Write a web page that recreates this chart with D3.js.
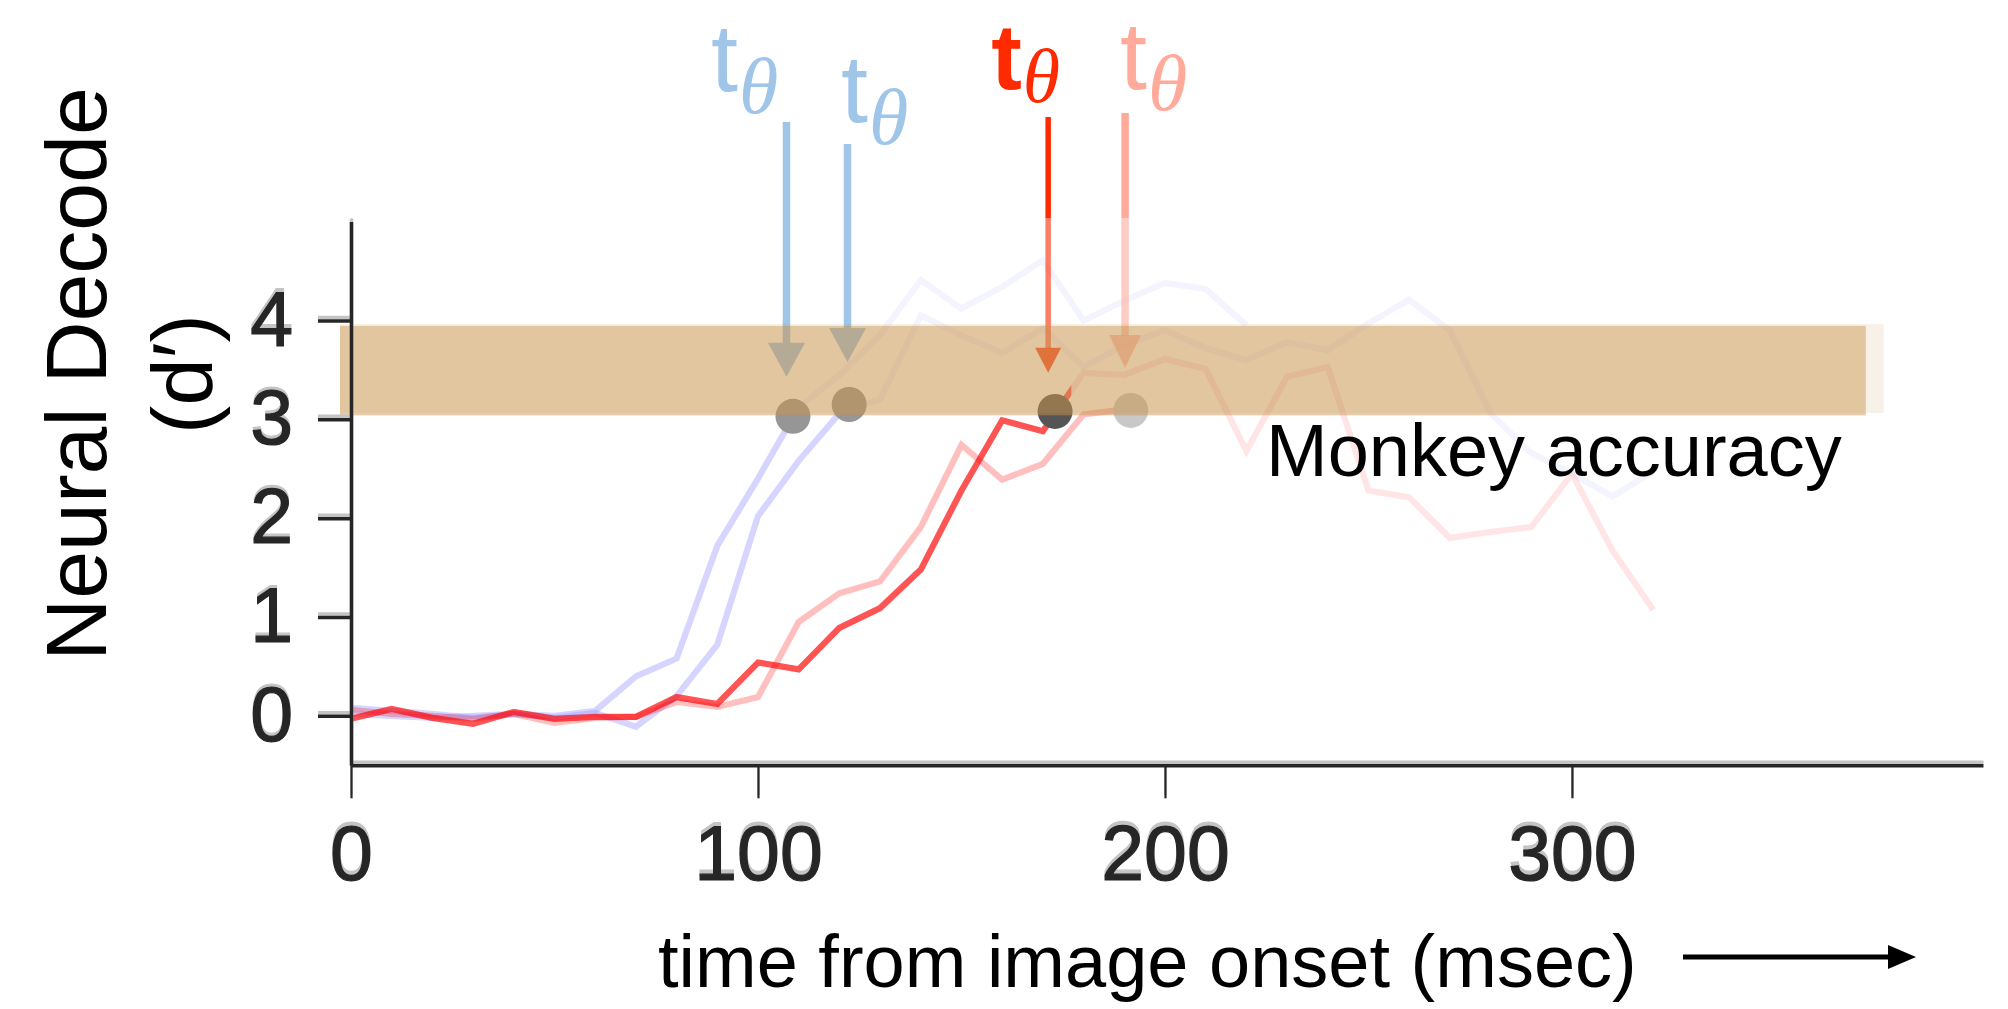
<!DOCTYPE html>
<html>
<head>
<meta charset="utf-8">
<script src="https://cdn.jsdelivr.net/npm/d3@7"></script>
<style>
  body { margin: 0; background: #ffffff; }
  svg { display: block; }
  text { font-family: "Liberation Sans", Arial, Helvetica, sans-serif; }
</style>
</head>
<body>
<svg id="chart" width="2008" height="1009"></svg>
<script>
// ---- data -------------------------------------------------------------
// decode time axis, 10 ms bins
const times = d3.range(0, 330, 10);

// neural decode d' per time bin
const blueEarly = [0.08, 0.05, 0.02, -0.02, 0.02, 0.00, 0.05, 0.40, 0.58, 1.72, 2.40, 3.12,
                   3.45, 3.85, 4.41, 4.12, 4.34, 4.61, 4.00, 4.20, 4.38, 4.32, 3.95];
const blueLate  = [0.02, 0.00, -0.02, 0.00, 0.02, -0.02, 0.03, -0.11, 0.20, 0.72, 2.02, 2.58,
                   3.06, 3.20, 4.05, 3.85, 3.67, 3.92, 3.53, 3.75, 3.90, 3.72, 3.60, 3.78,
                   3.70, 3.97, 4.21, 3.90, 3.06, 2.66, 2.45, 2.22, 2.47];
const redMain   = [-0.03, 0.07, -0.02, -0.08, 0.04, -0.03, -0.01, -0.01, 0.19, 0.12, 0.54, 0.47,
                   0.89, 1.09, 1.48, 2.28, 2.99, 2.88, 3.47, 3.45, 3.61, 3.51, 2.68, 3.43,
                   3.53, 2.28, 2.21, 1.80, 1.86, 1.91, 2.45, 1.67, 1.07];
const redFaint  = [0.06, 0.02, 0.00, -0.03, 0.02, -0.07, -0.02, -0.01, 0.14, 0.09, 0.19, 0.95,
                   1.24, 1.36, 1.91, 2.74, 2.39, 2.55, 3.05, 3.10];

// time up to which each trace is drawn at full strength
const strongUntil = [109, 123, 192, 177];
// threshold crossing (t_theta) for blueEarly, blueLate, redMain, redFaint
const crossTimes  = [108.6, 122.4, 173, 191.6];
const crossValues = [3.03, 3.15, 3.08, 3.09];
// arrow positions and tip values
const arrowTimes = [107, 122, 171.3, 190.2];
const arrowTips  = [3.43, 3.58, 3.47, 3.52];

// monkey behavioural accuracy band (d')
const accuracyBand  = [3.04, 3.945];
const accuracySpan  = [-2.7, 372.2];
const accuracyGhost = [3.065, 3.965];
const ghostSpan     = [-2.7, 376.6];

const yTicks = [0, 1, 2, 3, 4];
const xTicks = [0, 100, 200, 300];

// ---- styling ----------------------------------------------------------
const traces = [
  { values: blueEarly, stroke: "#9696ff", strongOp: 0.40, faintOp: 0.10, width: 6.2 },
  { values: blueLate,  stroke: "#9696ff", strongOp: 0.40, faintOp: 0.10, width: 6.2 },
  { values: redFaint,  stroke: "#ff0000", strongOp: 0.25, faintOp: 0.10, width: 6.2 },
  { values: redMain,   stroke: "#ff0000", strongOp: 0.67, faintOp: 0.10, width: 6.2 }
];
const markerStyle = [
  { dot: "#969696", arrow: "#9fc5e8", width: 7.5, headW: 37, headL: 34, top: 122, lowOp: 1.0, headOp: 1.0,
    label: "#9fc5e8", tdx: -75.5, tBase: 91, thDy: 22, bold: false, tSize: 97, thSize: 80 },
  { dot: "#969696", arrow: "#9fc5e8", width: 7.5, headW: 37, headL: 34, top: 144, lowOp: 1.0, headOp: 1.0,
    label: "#9fc5e8", tdx: -6.5, tBase: 122, thDy: 22, bold: false, tSize: 97, thSize: 80 },
  { dot: "#555555", arrow: "#ff2a00", width: 5.5, headW: 26, headL: 25, top: 117, lowOp: 0.6, headOp: 0.85,
    label: "#ff2a00", tdx: -57, tBase: 89, thDy: 13, bold: true, tSize: 92, thSize: 76 },
  { dot: "#c8c8c8", arrow: "#ffaa9b", width: 7.5, headW: 32, headL: 33, top: 113, lowOp: 0.6, headOp: 0.7,
    label: "#ffaa9b", tdx: -5, tBase: 89, thDy: 21, bold: false, tSize: 97, thSize: 80 }
];
const arrowFadeY = 218;

// ---- scales -----------------------------------------------------------
const svg = d3.select("#chart");
const x = d3.scaleLinear().domain([0, 401]).range([351, 1983]);
const y = d3.scaleLinear().domain([-0.5, 5]).range([765.3, 221.6]);

const defs = svg.append("defs");
const line = d3.line().x((d, i) => x(times[i])).y(d => y(d));

// ---- traces: strong part up to crossing, faint continuation after -----
const traceG = svg.append("g");
traces.forEach((tr, i) => {
  const cut = x(strongUntil[i]);
  defs.append("clipPath").attr("id", "strong" + i)
    .append("rect").attr("x", 0).attr("y", 0).attr("width", cut).attr("height", 1009);
  defs.append("clipPath").attr("id", "faint" + i)
    .append("rect").attr("x", cut).attr("y", 0).attr("width", 2008 - cut).attr("height", 1009);

  const common = p => p.attr("d", line(tr.values)).attr("fill", "none")
    .attr("stroke", tr.stroke).attr("stroke-width", tr.width)
    .attr("stroke-linejoin", "miter").attr("stroke-miterlimit", 3);
  traceG.append("path").call(common)
    .attr("clip-path", `url(#faint${i})`).attr("stroke-opacity", tr.faintOp);
  traceG.append("path").call(common)
    .attr("clip-path", `url(#strong${i})`).attr("stroke-opacity", tr.strongOp);
});

// ---- crossing dots ----------------------------------------------------
svg.append("g").selectAll("circle")
  .data(crossTimes)
  .join("circle")
  .attr("cx", d => x(d))
  .attr("cy", (d, i) => y(crossValues[i]))
  .attr("r", 17.5)
  .attr("fill", (d, i) => markerStyle[i].dot);

// ---- t_theta arrows ---------------------------------------------------
const arrowG = svg.append("g");
arrowTimes.forEach((t, i) => {
  const s = markerStyle[i];
  const ax = x(t), tip = y(arrowTips[i]), base = tip - s.headL;
  arrowG.append("line")
    .attr("x1", ax).attr("x2", ax).attr("y1", s.top).attr("y2", Math.min(arrowFadeY, base))
    .attr("stroke", s.arrow).attr("stroke-width", s.width);
  arrowG.append("line")
    .attr("x1", ax).attr("x2", ax).attr("y1", arrowFadeY).attr("y2", base + 1)
    .attr("stroke", s.arrow).attr("stroke-width", s.width).attr("stroke-opacity", s.lowOp);
  arrowG.append("path")
    .attr("d", `M${ax - s.headW / 2},${base}L${ax + s.headW / 2},${base}L${ax},${tip}Z`)
    .attr("fill", s.arrow).attr("fill-opacity", s.headOp);

  const lbl = svg.append("text")
    .attr("x", ax + s.tdx).attr("y", s.tBase)
    .attr("fill", s.label);
  lbl.append("tspan").text("t")
    .attr("font-size", s.tSize)
    .attr("font-weight", s.bold ? "bold" : "normal");
  lbl.append("tspan").text("θ")
    .attr("dx", 1).attr("dy", s.thDy)
    .attr("font-family", "'Liberation Serif', 'Times New Roman', serif")
    .attr("font-style", "italic")
    .attr("font-size", s.thSize);
});

// ---- monkey accuracy band --------------------------------------------
svg.append("rect")
  .attr("x", x(ghostSpan[0])).attr("width", x(ghostSpan[1]) - x(ghostSpan[0]))
  .attr("y", y(accuracyGhost[1])).attr("height", y(accuracyGhost[0]) - y(accuracyGhost[1]))
  .attr("fill", "rgb(200,149,79)").attr("fill-opacity", 0.13);
svg.append("rect")
  .attr("x", x(accuracySpan[0])).attr("width", x(accuracySpan[1]) - x(accuracySpan[0]))
  .attr("y", y(accuracyBand[1])).attr("height", y(accuracyBand[0]) - y(accuracyBand[1]))
  .attr("fill", "rgb(200,149,79)").attr("fill-opacity", 0.47);

svg.append("text")
  .attr("x", x(accuracySpan[1]) - 24).attr("y", 476)
  .attr("text-anchor", "end")
  .attr("font-size", 74)
  .attr("fill", "#000")
  .text("Monkey accuracy");

// ---- axes (drawn twice: soft grey offset copy, then dark) -------------
function drawAxes(g, color) {
  const yAxis = g.append("g").attr("transform", `translate(${x(0)},0)`)
    .call(d3.axisLeft(y).tickValues(yTicks).tickFormat(d3.format("d"))
      .tickSize(33).tickPadding(25).tickSizeOuter(0));
  const xAxis = g.append("g").attr("transform", `translate(0,${y(-0.5)})`)
    .call(d3.axisBottom(x).tickValues(xTicks).tickFormat(d3.format("d"))
      .tickSize(33).tickPadding(27).tickSizeOuter(0));
  [yAxis, xAxis].forEach(a => {
    a.select(".domain").attr("stroke", color).attr("stroke-width", 3.5);
    a.selectAll(".tick text").attr("fill", color).attr("font-size", 77)
      .attr("font-family", "'Liberation Sans', Arial, sans-serif")
      .attr("stroke", color).attr("stroke-width", 1.2);
  });
  yAxis.selectAll(".tick line").attr("stroke", color).attr("stroke-width", 3.5);
  xAxis.selectAll(".tick line").attr("stroke", color).attr("stroke-width", 2.2);
}
drawAxes(svg.append("g").attr("transform", "translate(0,-3.5)"), "#c4c4c4");
drawAxes(svg.append("g"), "#262626");

// ---- axis titles ------------------------------------------------------
svg.append("text")
  .attr("transform", "translate(106,374) rotate(-90)")
  .attr("text-anchor", "middle")
  .attr("font-size", 86)
  .attr("fill", "#000")
  .text("Neural Decode");
svg.append("text")
  .attr("transform", "translate(212,374) rotate(-90)")
  .attr("text-anchor", "middle")
  .attr("font-size", 85)
  .attr("fill", "#000")
  .text("(d′)");

svg.append("text")
  .attr("x", 658).attr("y", 987)
  .attr("font-size", 74)
  .attr("fill", "#000")
  .text("time from image onset (msec)");

// direction arrow after the x-axis title
const dirY = 957;
svg.append("line")
  .attr("x1", 1683).attr("x2", 1892).attr("y1", dirY).attr("y2", dirY)
  .attr("stroke", "#000").attr("stroke-width", 5);
svg.append("path")
  .attr("d", `M1888,${dirY - 12}L1916,${dirY}L1888,${dirY + 12}Z`)
  .attr("fill", "#000");
</script>
</body>
</html>
